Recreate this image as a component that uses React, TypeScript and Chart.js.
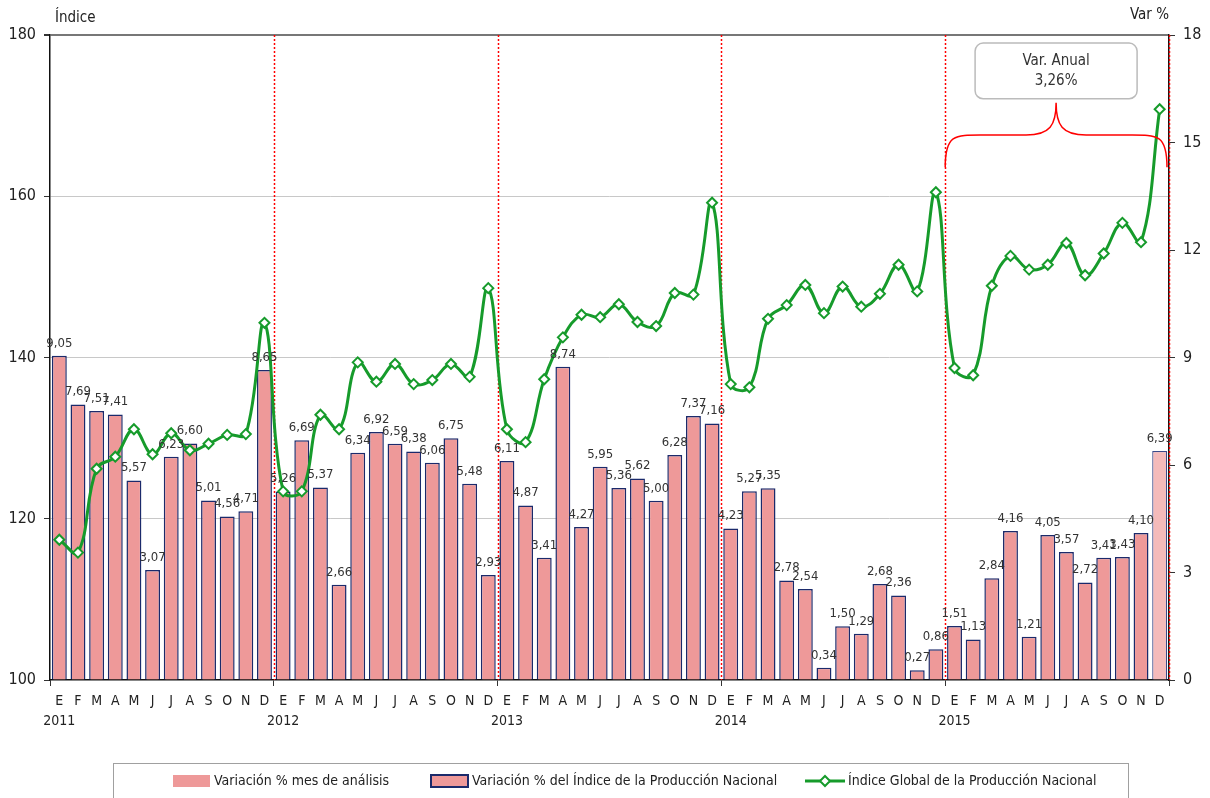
import React, { useEffect, useRef } from "react";
import { Chart, registerables } from "chart.js";

Chart.register(...registerables);

const years = ["2011", "2012", "2013", "2014", "2015"];
const monthLetters = ["E", "F", "M", "A", "M", "J", "J", "A", "S", "O", "N", "D"];

const variacion2011 = [9.05, 7.69, 7.51, 7.41, 5.57, 3.07, 6.23, 6.6, 5.01, 4.56, 4.71, 8.65];
const variacion2012 = [5.26, 6.69, 5.37, 2.66, 6.34, 6.92, 6.59, 6.38, 6.06, 6.75, 5.48, 2.93];
const variacion2013 = [6.11, 4.87, 3.41, 8.74, 4.27, 5.95, 5.36, 5.62, 5.0, 6.28, 7.37, 7.16];
const variacion2014 = [4.23, 5.27, 5.35, 2.78, 2.54, 0.34, 1.5, 1.29, 2.68, 2.36, 0.27, 0.86];
const variacion2015 = [1.51, 1.13, 2.84, 4.16, 1.21, 4.05, 3.57, 2.72, 3.41, 3.43, 4.1, 6.39];

const indice2011 = [117.4, 115.8, 126.2, 127.7, 131.1, 128.0, 130.6, 128.5, 129.3, 130.4, 130.5, 144.3];
const indice2012 = [123.4, 123.4, 132.9, 131.1, 139.4, 137.0, 139.2, 136.7, 137.2, 139.2, 137.6, 148.6];
const indice2013 = [131.1, 129.5, 137.3, 142.5, 145.3, 145.0, 146.6, 144.4, 143.9, 148.0, 147.8, 159.2];
const indice2014 = [136.7, 136.3, 144.8, 146.5, 149.0, 145.5, 148.8, 146.3, 147.9, 151.5, 148.2, 160.5];
const indice2015 = [138.7, 137.8, 148.9, 152.6, 150.9, 151.5, 154.2, 150.2, 152.9, 156.7, 154.3, 170.8];

const leftTicks = [100, 120, 140, 160, 180];
const rightTicks = [0, 3, 6, 9, 12, 15, 18];

const annualLabel = ["Var. Anual", "3,26%"];
const legendNames = [
  "Variación % mes de análisis",
  "Variación % del Índice de la Producción Nacional",
  "Índice Global de la Producción Nacional",
];

const FONT = "'Liberation Sans Narrow', 'DejaVu Sans Condensed', 'Arial Narrow', sans-serif";

const BAR_FILL = "#EE9999";
const BAR_BORDER = "#1B2A6B";
const BAR_LAST = "#F4BABA";
const LINE_GREEN = "#169B2B";

export default function App() {
  const ref = useRef<HTMLCanvasElement | null>(null);

  useEffect(() => {
    document.body.style.margin = "0";
    const canvas = ref.current;
    if (!canvas) return;

    const allVar = [...variacion2011, ...variacion2012, ...variacion2013, ...variacion2014, ...variacion2015];
    const allIdx = [...indice2011, ...indice2012, ...indice2013, ...indice2014, ...indice2015];
    const labels: (string | string[])[] = [];
    years.forEach((y) => {
      monthLetters.forEach((m, i) => {
        labels.push(i === 0 ? [m, y] : m);
      });
    });
    const n = allVar.length;
    const mainBars = allVar.map((v, i) => (i < n - 1 ? v : null));
    const lastBar = allVar.map((v, i) => (i === n - 1 ? v : null));

    const overlay = {
      id: "overlay",
      beforeDatasetsDraw(chart: any) {
        const { ctx, chartArea, scales } = chart;
        const x = scales.x;
        ctx.save();
        ctx.strokeStyle = "#FF0000";
        ctx.lineWidth = 1.5;
        ctx.setLineDash([2, 2]);
        for (let k = 12; k <= n; k += 12) {
          const px = Math.round(x.getPixelForValue(k - 0.5)) + 0.5;
          ctx.beginPath();
          ctx.moveTo(px, chartArea.top);
          ctx.lineTo(px, chartArea.bottom);
          ctx.stroke();
        }
        ctx.restore();
      },
      afterDatasetsDraw(chart: any) {
        const { ctx } = chart;
        ctx.save();
        ctx.font = `13px ${FONT}`;
        ctx.fillStyle = "#333";
        ctx.textAlign = "center";
        ctx.textBaseline = "bottom";
        [0, 1].forEach((di) => {
          const meta = chart.getDatasetMeta(di);
          const data = chart.data.datasets[di].data;
          meta.data.forEach((el: any, i: number) => {
            const v = data[i];
            if (v === null || v === undefined) return;
            ctx.fillText(v.toFixed(2).replace(".", ","), el.x, el.y - 6);
          });
        });
        ctx.restore();
      },
      afterDraw(chart: any) {
        const { ctx, scales, chartArea } = chart;
        const x = scales.x;
        const y = scales.y;
        ctx.save();
        // axis titles
        ctx.font = `15px ${FONT}`;
        ctx.fillStyle = "#222";
        ctx.textBaseline = "middle";
        ctx.textAlign = "left";
        ctx.fillText("Índice", chartArea.left + 5, 18);
        ctx.textAlign = "right";
        ctx.fillText("Var %", chartArea.right, 15);

        // brace over 2015
        const bx0 = x.getPixelForValue(n - 12 - 0.5);
        const bx1 = x.getPixelForValue(n - 1 + 0.5) - 2;
        const bxc = (bx0 + bx1) / 2;
        const yEnd = y.getPixelForValue(163.6);
        const yMid = y.getPixelForValue(167.6);
        const yTip = y.getPixelForValue(171.6);
        const r = 42;
        ctx.strokeStyle = "#FF0000";
        ctx.lineWidth = 1.5;
        ctx.beginPath();
        ctx.moveTo(bx0, yEnd);
        ctx.bezierCurveTo(bx0, yMid - 2, bx0 + 10, yMid, bx0 + r, yMid);
        ctx.lineTo(bxc - 30, yMid);
        ctx.bezierCurveTo(bxc - 6, yMid, bxc, yMid - 10, bxc, yTip);
        ctx.bezierCurveTo(bxc, yMid - 10, bxc + 6, yMid, bxc + 30, yMid);
        ctx.lineTo(bx1 - r, yMid);
        ctx.bezierCurveTo(bx1 - 10, yMid, bx1, yMid - 2, bx1, yEnd);
        ctx.stroke();

        // annotation box
        const boxW = 162;
        const bTop = y.getPixelForValue(179);
        const bBot = y.getPixelForValue(172.1);
        const bL = bxc - boxW / 2;
        ctx.beginPath();
        ctx.roundRect(bL, bTop, boxW, bBot - bTop, 8);
        ctx.fillStyle = "#FFFFFF";
        ctx.fill();
        ctx.strokeStyle = "#BBBBBB";
        ctx.lineWidth = 1.5;
        ctx.stroke();
        ctx.fillStyle = "#333";
        ctx.font = `15px ${FONT}`;
        ctx.textAlign = "center";
        ctx.fillText(annualLabel[0], bxc, bTop + 18);
        ctx.fillText(annualLabel[1], bxc, bTop + 38);

        // legend
        const lx0 = 113, lx1 = 1128, ly0 = 763;
        ctx.strokeStyle = "#A0A0A0";
        ctx.lineWidth = 1;
        ctx.strokeRect(lx0 + 0.5, ly0 + 0.5, lx1 - lx0, 60);
        const ly = 781;
        ctx.font = `14px ${FONT}`;
        ctx.textAlign = "left";
        ctx.textBaseline = "middle";
        // item 1
        ctx.fillStyle = BAR_FILL;
        ctx.fillRect(173, ly - 6, 37, 12);
        ctx.fillStyle = "#222";
        ctx.fillText(legendNames[0], 214, ly);
        // item 2
        ctx.fillStyle = BAR_FILL;
        ctx.fillRect(431, ly - 6, 37, 12);
        ctx.strokeStyle = BAR_BORDER;
        ctx.lineWidth = 2;
        ctx.strokeRect(431, ly - 6, 37, 12);
        ctx.fillStyle = "#222";
        ctx.fillText(legendNames[1], 472, ly);
        // item 3
        ctx.strokeStyle = LINE_GREEN;
        ctx.lineWidth = 3;
        ctx.beginPath();
        ctx.moveTo(805, ly);
        ctx.lineTo(845, ly);
        ctx.stroke();
        ctx.lineWidth = 2;
        ctx.fillStyle = "#fff";
        ctx.beginPath();
        ctx.moveTo(825, ly - 5);
        ctx.lineTo(830, ly);
        ctx.lineTo(825, ly + 5);
        ctx.lineTo(820, ly);
        ctx.closePath();
        ctx.fill();
        ctx.stroke();
        ctx.fillStyle = "#222";
        ctx.fillText(legendNames[2], 848, ly);
        ctx.restore();
      },
    };

    const chart = new Chart(canvas, {
      type: "bar",
      data: {
        labels,
        datasets: [
          {
            type: "bar",
            label: legendNames[1],
            data: mainBars,
            yAxisID: "y1",
            backgroundColor: BAR_FILL,
            borderColor: BAR_BORDER,
            borderWidth: 1.5,
            borderSkipped: "bottom",
            grouped: false,
            barPercentage: 0.8,
            categoryPercentage: 1,
            order: 2,
          } as any,
          {
            type: "bar",
            label: legendNames[0],
            data: lastBar,
            yAxisID: "y1",
            backgroundColor: BAR_LAST,
            borderColor: "#3A4A8A",
            borderWidth: 1.2,
            borderSkipped: "bottom",
            grouped: false,
            barPercentage: 0.8,
            categoryPercentage: 1,
            order: 2,
          } as any,
          {
            type: "line",
            label: legendNames[2],
            data: allIdx,
            yAxisID: "y",
            borderColor: LINE_GREEN,
            borderWidth: 3,
            tension: 0.4,
            pointStyle: "rectRot",
            pointRadius: 5,
            pointBorderWidth: 2,
            pointBackgroundColor: "#FFFFFF",
            pointBorderColor: LINE_GREEN,
            order: 0,
          } as any,
        ],
      },
      options: {
        animation: false,
        responsive: false,
        maintainAspectRatio: false,
        layout: { padding: { top: 35, left: 0, right: 0, bottom: 0 } },
        plugins: {
          legend: { display: false },
          tooltip: { enabled: false },
        },
        scales: {
          x: {
            offset: true,
            afterFit: (s: any) => {
              s.height = 118;
            },
            grid: {
              drawOnChartArea: false,
              drawTicks: true,
              tickLength: 6,
              offset: true,
              tickColor: (c: any) =>
                c.type !== "tick" || c.index % 12 === 0 ? "#333" : "rgba(0,0,0,0)",
            },
            border: { display: true, color: "#111", width: 1.5 },
            ticks: {
              autoSkip: false,
              maxRotation: 0,
              padding: 5,
              color: "#222",
              font: { family: FONT, size: 14, lineHeight: 1.45 },
            },
          },
          y: {
            position: "left",
            min: 100,
            max: 180,
            afterFit: (s: any) => {
              s.width = 50;
            },
            afterBuildTicks: (s: any) => {
              s.ticks = leftTicks.map((v) => ({ value: v }));
            },
            grid: {
              color: (c: any) =>
                c.tick && c.tick.value === 180 ? "#777" : c.tick && c.tick.value === 100 ? "rgba(0,0,0,0)" : "#C8C8C8",
              lineWidth: (c: any) => (c.tick && c.tick.value === 180 ? 2 : 1),
              tickColor: "#333",
              tickLength: 6,
            },
            border: { display: true, color: "#111", width: 1.5 },
            ticks: {
              padding: 8,
              color: "#222",
              font: { family: FONT, size: 16 },
            },
          },
          y1: {
            position: "right",
            min: 0,
            max: 18,
            afterFit: (s: any) => {
              s.width = 41;
            },
            afterBuildTicks: (s: any) => {
              s.ticks = rightTicks.map((v) => ({ value: v }));
            },
            grid: {
              drawOnChartArea: false,
              tickColor: "#333",
              tickLength: 6,
            },
            border: { display: true, color: "#111", width: 1.5 },
            ticks: {
              padding: 8,
              color: "#222",
              font: { family: FONT, size: 16 },
            },
          },
        },
      } as any,
      plugins: [overlay],
    });

    return () => chart.destroy();
  }, []);

  return <canvas ref={ref} width={1210} height={798} style={{ display: "block" }} />;
}
